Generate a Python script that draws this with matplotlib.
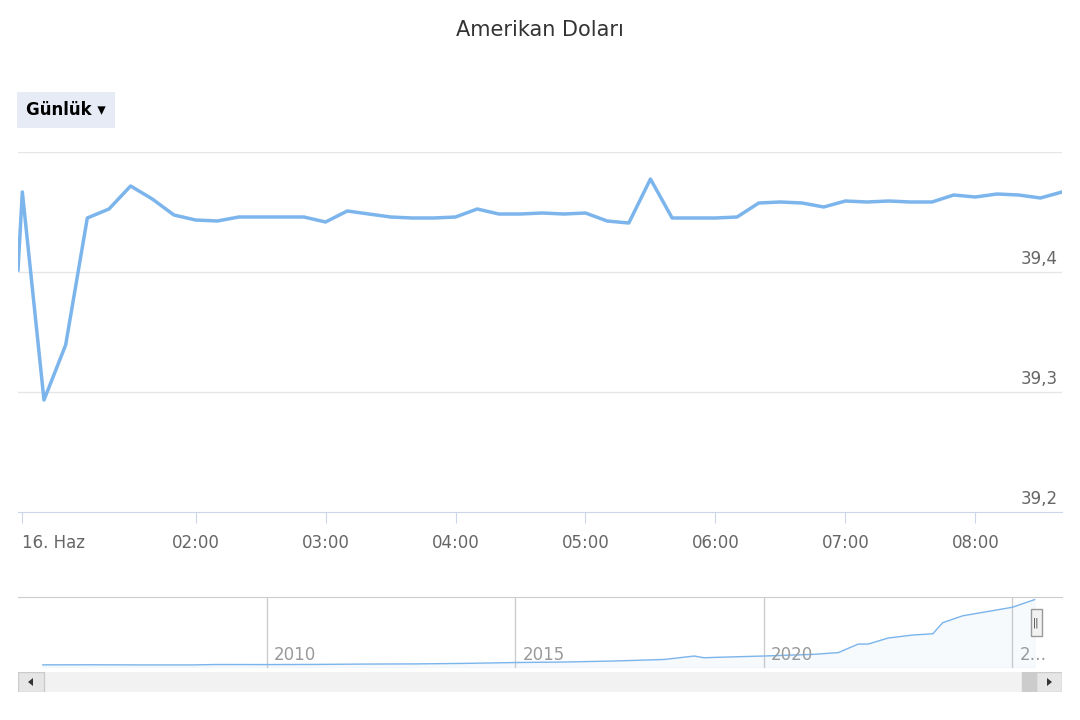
import matplotlib
matplotlib.use("Agg")
import matplotlib.pyplot as plt
from matplotlib.patches import Rectangle, Polygon

# gün içi veriler (gece yarısından itibaren dakika)
dakika = [38] + list(range(40, 530, 10))
y_px = [270, 192, 400, 345, 218, 209, 186, 199, 215, 220, 221, 217, 217, 217, 217,
        222, 211, 214, 217, 218, 218, 217, 209, 214, 214, 213, 214, 213, 221, 223,
        179, 218, 218, 218, 217, 203, 202, 203, 207, 201, 202, 201, 202, 202, 195,
        197, 194, 195, 198, 192]
kur = [39.4 + (272 - y) / 1200 for y in y_px]

saat_tick = [40, 120, 180, 240, 300, 360, 420, 480]
saat_etiket = ["16. Haz", "02:00", "03:00", "04:00", "05:00", "06:00", "07:00", "08:00"]

# navigatör (uzun dönem)
yil = [2005.5, 2006.5, 2007.5, 2008.5, 2009, 2010, 2011, 2012, 2013, 2014, 2015, 2016,
       2017, 2018, 2018.6, 2018.8, 2019, 2020, 2020.5, 2021, 2021.5, 2021.9, 2022.1,
       2022.5, 2023, 2023.4, 2023.6, 2024, 2024.5, 2025, 2025.45]
nav_kur = [1.35, 1.4, 1.3, 1.3, 1.55, 1.5, 1.6, 1.8, 1.9, 2.2, 2.7, 3.0, 3.6, 4.5,
           6.5, 5.5, 5.7, 6.5, 7.0, 7.5, 8.5, 13.5, 13.5, 17.0, 18.8, 19.5, 26.0,
           30.0, 32.5, 35.0, 39.5]

W, H = 1080, 720
fig = plt.figure(figsize=(10.8, 7.2), dpi=100)

def ax_px(x0, y0, x1, y1):
    return fig.add_axes([x0 / W, 1 - y1 / H, (x1 - x0) / W, (y1 - y0) / H])

fig.text(540 / W, 1 - 30 / H, "Amerikan Doları", ha="center", va="center",
         fontsize=15, color="#333333")
fig.text(26 / W, 1 - 110 / H, "Günlük ▾", ha="left", va="center", fontsize=12,
         fontweight="bold", color="#000000",
         bbox=dict(boxstyle="square,pad=0.55", fc="#e6ebf5", ec="none"))

ax = ax_px(18, 152, 1062, 512)
ax.plot(dakika, kur, color="#7cb5ec", lw=2.5, solid_joinstyle="round")
ax.set_xlim(38, 520)
ax.set_ylim(39.2, 39.5)
for v in [39.3, 39.4, 39.5]:
    ax.axhline(v, color="#e6e6e6", lw=1, zorder=0)
for v, s in [(39.2, "39,2"), (39.3, "39,3"), (39.4, "39,4")]:
    ax.text(518, v + 0.003, s, ha="right", va="bottom", fontsize=12, color="#666666")
for sp in ["top", "left", "right"]:
    ax.spines[sp].set_visible(False)
ax.spines["bottom"].set_color("#ccd6eb")
ax.set_yticks([])
ax.set_xticks(saat_tick)
ax.set_xticklabels(saat_etiket, fontsize=12, color="#666666")
ax.get_xticklabels()[0].set_horizontalalignment("left")
ax.tick_params(axis="x", length=8, color="#ccd6eb", pad=8)

nav = ax_px(18, 597, 1062, 668)
nav.fill_between(yil, nav_kur, 0, color="#7cb5ec", alpha=0.06)
nav.plot(yil, nav_kur, color="#7cb5ec", lw=1)
nav.set_xlim(2005.0, 2026.0)
nav.set_ylim(-0.5, 41)
for y in [2010, 2015, 2020, 2025]:
    nav.axvline(y, color="#cccccc", lw=1, zorder=0)
for y, s in [(2010, "2010"), (2015, "2015"), (2020, "2020"), (2025, "2…")]:
    nav.text(y + 0.15, 2, s, fontsize=12, color="#999999", va="bottom")
nav.set_xticks([])
nav.set_yticks([])
for sp in ["left", "right", "bottom"]:
    nav.spines[sp].set_visible(False)
nav.spines["top"].set_color("#cccccc")
nav.add_patch(Rectangle((2025.37, 18), 0.22, 16, fc="#f2f2f2", ec="#999999",
                        lw=1, clip_on=False, zorder=5))
nav.text(2025.48, 26, "||", ha="center", va="center", fontsize=7, color="#333333",
         zorder=6, clip_on=False)

sb = ax_px(18, 672, 1062, 692)
sb.set_xlim(0, 1044)
sb.set_ylim(0, 20)
sb.axis("off")
sb.add_patch(Rectangle((0, 0), 1044, 20, fc="#f2f2f2", ec="#f2f2f2"))
sb.add_patch(Rectangle((0, 0), 26, 20, fc="#e6e6e6", ec="#cccccc"))
sb.add_patch(Rectangle((1018, 0), 26, 20, fc="#e6e6e6", ec="#cccccc"))
sb.add_patch(Rectangle((1004, 0), 14, 20, fc="#cccccc", ec="#cccccc"))
sb.add_patch(Polygon([(15, 6), (15, 14), (10, 10)], fc="#333333"))
sb.add_patch(Polygon([(1029, 6), (1029, 14), (1034, 10)], fc="#333333"))

fig.savefig("out.png", dpi=100)
